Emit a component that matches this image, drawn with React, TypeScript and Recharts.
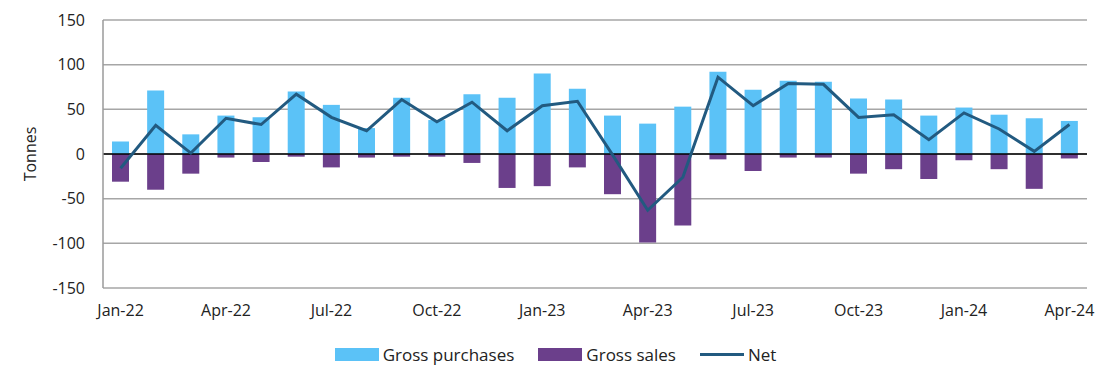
import { ComposedChart, Bar, Line, XAxis, YAxis, CartesianGrid, Legend, ReferenceLine } from "recharts";

const months = [
  "Jan-22", "Feb-22", "Mar-22", "Apr-22", "May-22", "Jun-22", "Jul-22", "Aug-22", "Sep-22", "Oct-22",
  "Nov-22", "Dec-22", "Jan-23", "Feb-23", "Mar-23", "Apr-23", "May-23", "Jun-23", "Jul-23", "Aug-23",
  "Sep-23", "Oct-23", "Nov-23", "Dec-23", "Jan-24", "Feb-24", "Mar-24", "Apr-24",
];

const grossPurchases = [
  14, 71, 22, 43, 41, 70, 55, 29, 63, 38,
  67, 63, 90, 73, 43, 34, 53, 92, 72, 82,
  81, 62, 61, 43, 52, 44, 40, 37,
];

const grossSales = [
  -31, -40, -22, -4, -9, -3, -15, -4, -3, -3,
  -10, -38, -36, -15, -45, -99, -80, -6, -19, -4,
  -4, -22, -17, -28, -7, -17, -39, -5,
];

const net = [
  -16, 32, 1, 40, 33, 67, 41, 26, 61, 36,
  58, 26, 54, 59, -1, -63, -26, 86, 54, 79,
  78, 41, 44, 16, 46, 28, 3, 33,
];

const yTicks = [-150, -100, -50, 0, 50, 100, 150];

const data = months.map((month, i) => ({
  month,
  purchases: grossPurchases[i],
  sales: grossSales[i],
  net: net[i],
}));

const FONT = "'Open Sans', sans-serif";
const TEXT = "#222";

const renderLegend = (props: any) => {
  const items = props.payload || [];
  return (
    <div style={{ display: "flex", justifyContent: "center", fontFamily: FONT, fontSize: 17, color: TEXT, paddingLeft: 48 }}>
      {items.map((item: any) => (
        <div key={item.value} style={{ display: "flex", alignItems: "center", marginRight: 24 }}>
          {item.type === "line" ? (
            <div style={{ width: 44, height: 3, background: item.color, marginRight: 4 }} />
          ) : (
            <div style={{ width: 44, height: 13, background: item.color, marginRight: 4 }} />
          )}
          <span>{item.value}</span>
        </div>
      ))}
    </div>
  );
};

const App = () => (
  <div style={{ position: "absolute", left: 0, top: 0, width: 1106, height: 380, background: "#fff" }}>
    <ComposedChart
      width={1106}
      height={380}
      data={data}
      stackOffset="sign"
      margin={{ top: 20, right: 19, left: 0, bottom: 14 }}
    >
      <CartesianGrid vertical={false} stroke="#a6a6a6" strokeWidth={1.5} />
      <XAxis
        dataKey="month"
        interval={2}
        axisLine={false}
        tickLine={false}
        tickMargin={11}
        tick={{ fontSize: 16, fill: TEXT, fontFamily: FONT }}
      />
      <YAxis
        width={103}
        domain={[-150, 150]}
        ticks={yTicks}
        axisLine={{ stroke: "#9a9a9a", strokeWidth: 1.5 }}
        tickLine={false}
        tickMargin={12}
        tick={{ fontSize: 16, fill: TEXT, fontFamily: FONT }}
        label={{
          value: "Tonnes",
          angle: -90,
          position: "insideLeft",
          offset: 30,
          style: { textAnchor: "middle", fontSize: 16, fill: TEXT, fontFamily: FONT },
        }}
      />
      <ReferenceLine y={0} stroke="#000" strokeWidth={1.5} />
      <Legend
        verticalAlign="bottom"
        content={renderLegend}
        payload={[
          { value: "Gross purchases", type: "rect", color: "#5bc2f7" },
          { value: "Gross sales", type: "rect", color: "#6b3f8b" },
          { value: "Net", type: "line", color: "#225a80" },
        ]}
        wrapperStyle={{ paddingTop: 25 }}
      />
      <Bar dataKey="purchases" name="Gross purchases" stackId="a" fill="#5bc2f7" barSize={17} isAnimationActive={false} />
      <Bar dataKey="sales" name="Gross sales" stackId="a" fill="#6b3f8b" barSize={17} isAnimationActive={false} />
      <Line dataKey="net" name="Net" type="linear" stroke="#225a80" strokeWidth={3} dot={false} isAnimationActive={false} />
    </ComposedChart>
  </div>
);

export default App;
